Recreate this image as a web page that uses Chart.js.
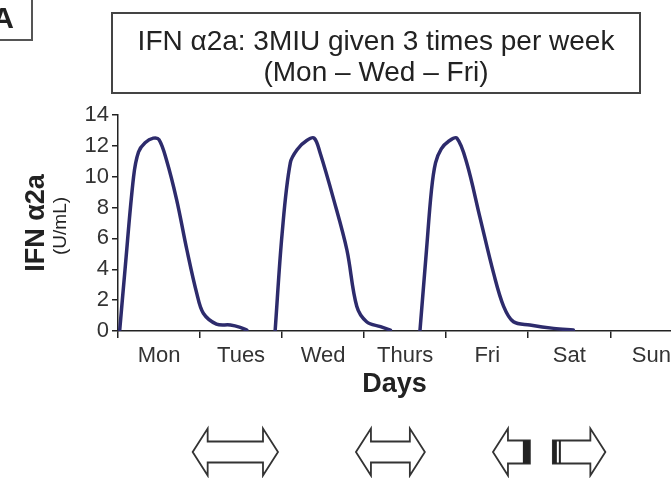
<!DOCTYPE html>
<html>
<head>
<meta charset="utf-8">
<script src="https://cdn.jsdelivr.net/npm/chart.js@4/dist/chart.umd.min.js"></script>
<style>
  html, body { margin: 0; padding: 0; background: #fff; }
  #wrap { width: 671px; height: 478px; position: relative; }
</style>
</head>
<body>
<div id="wrap"><canvas id="ifn-chart"></canvas></div>
<script>
// --- Data (x in days from Monday, y in U/mL) ---
const dayLabels = ['Mon', 'Tues', 'Wed', 'Thurs', 'Fri', 'Sat', 'Sun'];
const yTicks = [0, 2, 4, 6, 8, 10, 12, 14];

const monX = [0.02, 0.085, 0.19, 0.25, 0.33, 0.43, 0.5, 0.59, 0.715, 0.84, 0.96, 1.04, 1.2, 1.37, 1.49, 1.57];
const monY = [0, 3.95, 10.0, 11.6, 12.2, 12.5, 12.4, 11.1, 8.5, 5.25, 2.44, 1.15, 0.45, 0.39, 0.24, 0.06];

const wedX = [1.915, 2.0, 2.1, 2.19, 2.3, 2.39, 2.46, 2.63, 2.79, 2.91, 3.03, 3.2, 3.32];
const wedY = [0, 6.3, 10.9, 11.8, 12.35, 12.5, 11.6, 8.5, 5.25, 1.6, 0.6, 0.28, 0.06];

const friX = [3.68, 3.76, 3.82, 3.87, 3.94, 4.03, 4.13, 4.25, 4.41, 4.58, 4.7, 4.82, 5.02, 5.31, 5.55];
const friY = [0, 5.25, 9.1, 10.9, 11.8, 12.3, 12.5, 10.9, 7.4, 3.7, 1.6, 0.6, 0.39, 0.17, 0.06];

// dosing windows drawn as double arrows under the axis (in days)
const arrowFrom = [0.91, 2.9, 4.57];
const arrowTo = [1.95, 3.74, 5.94];
const arrowGapFrom = [null, null, 5.02];
const arrowGapTo = [null, null, 5.3];

const titleLines = ['IFN \u03b12a: 3MIU given 3 times per week', '(Mon \u2013 Wed \u2013 Fri)'];

const lineColor = '#2d2b6c';
const inkColor = '#222';

function toPoints(xs, ys) {
    return xs.map((x, i) => ({ x: x, y: ys[i] }));
}

function curve(xs, ys) {
    return {
        data: toPoints(xs, ys),
        borderColor: lineColor,
        borderWidth: 3.5,
        pointRadius: 0,
        fill: false,
        tension: 0.35,
        borderCapStyle: 'round',
        borderJoinStyle: 'round'
    };
}

// --- Decorations: panel tag, title box, unit label, arrows ---
const decorPlugin = {
    id: 'decor',
    afterDraw(chart) {
        const ctx = chart.ctx;
        const xs = chart.scales.x;
        ctx.save();

        // panel tag "A"
        ctx.strokeStyle = '#555';
        ctx.lineWidth = 2;
        ctx.strokeRect(-5, -5, 37, 45);
        ctx.fillStyle = inkColor;
        ctx.font = 'bold 30px "Liberation Sans", Arial, sans-serif';
        ctx.textAlign = 'center';
        ctx.textBaseline = 'middle';
        ctx.fillText('A', 3, 20);

        // title box
        ctx.strokeStyle = '#444';
        ctx.lineWidth = 2;
        ctx.strokeRect(112, 13, 528, 80);
        ctx.font = '28px "Liberation Sans", Arial, sans-serif';
        ctx.fillText(titleLines[0], 376, 42);
        ctx.fillText(titleLines[1], 376, 73);

        // unit under the y title
        ctx.save();
        ctx.translate(61, 226);
        ctx.rotate(-Math.PI / 2);
        ctx.font = '19px "Liberation Sans", Arial, sans-serif';
        ctx.fillText('(U/mL)', 0, 0);
        ctx.restore();

        // double arrows
        const cy = 452, shaft = 10.5, head = 23.5, hl = 15;
        ctx.strokeStyle = '#333';
        ctx.lineWidth = 1.8;
        ctx.lineJoin = 'miter';
        for (let i = 0; i < arrowFrom.length; i++) {
            const x0 = xs.getPixelForValue(arrowFrom[i]);
            const x1 = xs.getPixelForValue(arrowTo[i]);
            if (arrowGapFrom[i] === null) {
                ctx.beginPath();
                ctx.moveTo(x0, cy);
                ctx.lineTo(x0 + hl, cy - head);
                ctx.lineTo(x0 + hl, cy - shaft);
                ctx.lineTo(x1 - hl, cy - shaft);
                ctx.lineTo(x1 - hl, cy - head);
                ctx.lineTo(x1, cy);
                ctx.lineTo(x1 - hl, cy + head);
                ctx.lineTo(x1 - hl, cy + shaft);
                ctx.lineTo(x0 + hl, cy + shaft);
                ctx.lineTo(x0 + hl, cy + head);
                ctx.closePath();
                ctx.fillStyle = '#fff';
                ctx.fill();
                ctx.stroke();
            } else {
                const g0 = xs.getPixelForValue(arrowGapFrom[i]);
                const g1 = xs.getPixelForValue(arrowGapTo[i]);
                const sh = 11.5;
                // left half
                ctx.beginPath();
                ctx.moveTo(x0, cy);
                ctx.lineTo(x0 + hl, cy - head);
                ctx.lineTo(x0 + hl, cy - sh);
                ctx.lineTo(g0, cy - sh);
                ctx.lineTo(g0, cy + sh);
                ctx.lineTo(x0 + hl, cy + sh);
                ctx.lineTo(x0 + hl, cy + head);
                ctx.closePath();
                ctx.fillStyle = '#fff';
                ctx.fill();
                ctx.stroke();
                // right half
                ctx.beginPath();
                ctx.moveTo(x1, cy);
                ctx.lineTo(x1 - hl, cy - head);
                ctx.lineTo(x1 - hl, cy - sh);
                ctx.lineTo(g1, cy - sh);
                ctx.lineTo(g1, cy + sh);
                ctx.lineTo(x1 - hl, cy + sh);
                ctx.lineTo(x1 - hl, cy + head);
                ctx.closePath();
                ctx.fill();
                ctx.stroke();
                // dark end caps at the break
                ctx.fillStyle = '#222';
                ctx.fillRect(g0 - 7, cy - sh, 7, sh * 2);
                ctx.fillRect(g1, cy - sh, 4, sh * 2);
                ctx.fillRect(g1 + 6, cy - sh, 2, sh * 2);
            }
        }
        ctx.restore();
    }
};

const ctx = document.getElementById('ifn-chart').getContext('2d');
Chart.defaults.font.family = '"Liberation Sans", Arial, sans-serif';
Chart.defaults.color = inkColor;

new Chart(ctx, {
    type: 'line',
    data: {
        datasets: [curve(monX, monY), curve(wedX, wedY), curve(friX, friY)]
    },
    options: {
        responsive: true,
        maintainAspectRatio: false,
        animation: false,
        layout: { padding: { top: 115, right: 0, left: 0, bottom: 0 } },
        plugins: {
            legend: { display: false },
            tooltip: { enabled: false },
            title: { display: false }
        },
        scales: {
            x: {
                type: 'linear',
                min: 0,
                max: 6.74,
                afterFit(scale) {
                    scale.height = 147;
                    scale.paddingRight = 0;
                    scale.paddingLeft = 0;
                },
                border: { color: inkColor, width: 1.5 },
                grid: {
                    drawOnChartArea: false,
                    tickLength: 7,
                    color: c => (c.tick && c.tick.value % 1 === 0 ? inkColor : 'rgba(0,0,0,0)'),
                    lineWidth: 1.5
                },
                ticks: {
                    stepSize: 0.5,
                    includeBounds: false,
                    autoSkip: false,
                    maxRotation: 0,
                    padding: 5,
                    color: '#333',
                    font: { size: 22 },
                    callback: v => (v % 1 === 0.5 ? dayLabels[Math.floor(v)] : '')
                },
                title: {
                    display: true,
                    text: 'Days',
                    color: inkColor,
                    font: { size: 27, weight: 'bold' },
                    padding: { top: 0, bottom: 77 }
                }
            },
            y: {
                min: 0,
                max: 14,
                afterFit(scale) {
                    scale.width = 118;
                },
                afterBuildTicks(scale) {
                    scale.ticks = yTicks.map(v => ({ value: v }));
                },
                border: { color: inkColor, width: 1.5 },
                grid: {
                    drawOnChartArea: false,
                    tickLength: 6,
                    color: inkColor,
                    lineWidth: 1.5
                },
                ticks: {
                    padding: 3,
                    color: '#333',
                    font: { size: 22 }
                },
                title: {
                    display: true,
                    text: 'IFN \u03b12a',
                    color: inkColor,
                    font: { size: 27, weight: 'bold' },
                    padding: { top: 20, bottom: 0 }
                }
            }
        }
    },
    plugins: [decorPlugin]
});
</script>
</body>
</html>
